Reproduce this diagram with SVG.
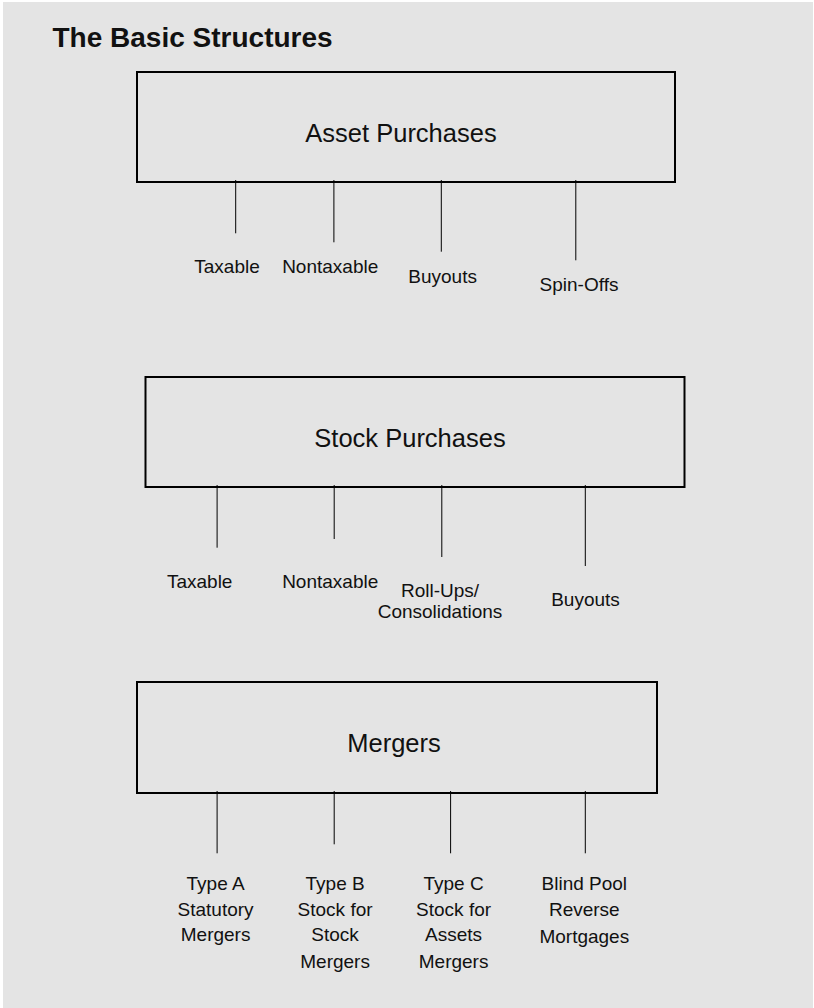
<svg xmlns="http://www.w3.org/2000/svg" width="814" height="1008" viewBox="0 0 814 1008">
<style>
.bg{fill:#e4e4e4}
.box{fill:none;stroke:#000;stroke-width:2}
.conn line{stroke:#000;stroke-width:1}
text{font-family:"Liberation Sans",Arial,sans-serif;fill:#111}
.title{font-size:28px;font-weight:bold}
.big{font-size:25.5px;text-anchor:middle}
.lbl{font-size:19px;text-anchor:middle}
</style>
<rect class="bg" x="3" y="2" width="810" height="1006"/>
<g id="title"><text class="title" x="52.5" y="46.7">The Basic Structures</text></g>

<g id="asset-purchases">
<rect class="box" x="137" y="72" width="538" height="110"/>
<text class="big" x="401" y="141.7">Asset Purchases</text>
</g>
<g id="asset-taxable"><text class="lbl" x="227" y="273.3">Taxable</text></g>
<g id="asset-nontaxable"><text class="lbl" x="330.2" y="273.3">Nontaxable</text></g>
<g id="asset-buyouts"><text class="lbl" x="442.6" y="282.5">Buyouts</text></g>
<g id="asset-spinoffs"><text class="lbl" x="579" y="291">Spin-Offs</text></g>

<g id="stock-purchases">
<rect class="box" x="145.5" y="377" width="539" height="110"/>
<text class="big" x="410" y="446.7">Stock Purchases</text>
</g>
<g id="stock-taxable"><text class="lbl" x="199.7" y="588.3">Taxable</text></g>
<g id="stock-nontaxable"><text class="lbl" x="330.2" y="588.3">Nontaxable</text></g>
<g id="stock-rollups"><text class="lbl" x="440" y="597.3">Roll-Ups/</text><text class="lbl" x="440" y="617.7">Consolidations</text></g>
<g id="stock-buyouts"><text class="lbl" x="585.5" y="605.7">Buyouts</text></g>

<g id="mergers">
<rect class="box" x="137" y="682" width="520" height="111"/>
<text class="big" x="394" y="752.3">Mergers</text>
</g>
<g id="type-a"><text class="lbl" x="215.6" y="890">Type A</text><text class="lbl" x="215.6" y="916">Statutory</text><text class="lbl" x="215.6" y="940.7">Mergers</text></g>
<g id="type-b"><text class="lbl" x="335.1" y="890">Type B</text><text class="lbl" x="335.1" y="916">Stock for</text><text class="lbl" x="335.1" y="940.7">Stock</text><text class="lbl" x="335.1" y="968.3">Mergers</text></g>
<g id="type-c"><text class="lbl" x="453.6" y="890">Type C</text><text class="lbl" x="453.6" y="916">Stock for</text><text class="lbl" x="453.6" y="940.7">Assets</text><text class="lbl" x="453.6" y="968.3">Mergers</text></g>
<g id="blind-pool"><text class="lbl" x="584.3" y="890">Blind Pool</text><text class="lbl" x="584.3" y="916">Reverse</text><text class="lbl" x="584.3" y="943.3">Mortgages</text></g>

<g id="connectors" class="conn">
<line x1="235.7" y1="180" x2="235.7" y2="233.3"/>
<line x1="333.9" y1="180" x2="333.9" y2="242.3"/>
<line x1="441.3" y1="180" x2="441.3" y2="251.7"/>
<line x1="575.8" y1="180" x2="575.8" y2="260.3"/>
<line x1="217.1" y1="485" x2="217.1" y2="547.7"/>
<line x1="334.2" y1="485" x2="334.2" y2="539"/>
<line x1="441.8" y1="485" x2="441.8" y2="557"/>
<line x1="585.3" y1="485" x2="585.3" y2="566"/>
<line x1="217.1" y1="791" x2="217.1" y2="853.3"/>
<line x1="334.2" y1="791" x2="334.2" y2="844.3"/>
<line x1="450.6" y1="791" x2="450.6" y2="853.3"/>
<line x1="585.3" y1="791" x2="585.3" y2="853.3"/>
</g>
</svg>
